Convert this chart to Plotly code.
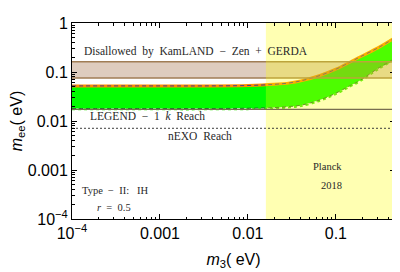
import math
import plotly.graph_objects as go

# ---- data ----
m3 = [1e-4, 1e-3, 0.003, 0.01, 0.02, 0.03, 0.04, 0.066, 0.1, 0.146, 0.19, 0.3, 0.47]
mee_upper = [0.052, 0.052, 0.052, 0.053, 0.056, 0.060, 0.066, 0.085, 0.114, 0.160, 0.205, 0.31, 0.50]
mee_lower = [0.018, 0.018, 0.018, 0.0182, 0.0188, 0.0198, 0.021, 0.027, 0.037, 0.053, 0.068, 0.118, 0.19]

kamland_band = [0.075, 0.162]   # disallowed by KamLAND-Zen + GERDA
legend_reach = 0.0172
nexo_reach = 0.0071
planck_m3 = 0.016
x_min, x_max = 1e-4, 0.47
y_min, y_max = 1e-4, 1.0

xtick_vals = [1e-4, 1e-3, 1e-2, 1e-1]
xtick_text = ["10<sup>\u22124</sup>", "0.001", "0.01", "0.1"]
ytick_vals = [1e-4, 1e-3, 1e-2, 1e-1, 1]
ytick_text = ["10<sup>\u22124</sup>", "0.001", "0.01", "0.1", "1"]

fig = go.Figure()

# green allowed band
fig.add_trace(go.Scatter(
    x=m3 + m3[::-1], y=mee_upper + mee_lower[::-1],
    fill="toself", fillcolor="rgb(0,252,0)", mode="lines",
    line=dict(width=0, shape="spline"), hoverinfo="skip"))
# upper edge: orange with dark dashes
fig.add_trace(go.Scatter(x=m3, y=mee_upper, mode="lines",
                         line=dict(color="rgb(255,140,0)", width=3, shape="spline")))
fig.add_trace(go.Scatter(x=m3, y=mee_upper, mode="lines",
                         line=dict(color="rgb(70,60,140)", width=1, dash="4px,3px", shape="spline")))
# lower edge: green dots + dark green dashes
fig.add_trace(go.Scatter(x=m3, y=[v * 0.96 for v in mee_lower], mode="lines",
                         line=dict(color="rgb(60,230,20)", width=2, dash="dot", shape="spline")))
fig.add_trace(go.Scatter(x=m3, y=mee_lower, mode="lines",
                         line=dict(color="rgb(30,110,40)", width=1, dash="4px,3px", shape="spline")))

# disallowed band (translucent brown)
fig.add_trace(go.Scatter(
    x=[x_min, x_max, x_max, x_min, x_min],
    y=[kamland_band[0], kamland_band[0], kamland_band[1], kamland_band[1], kamland_band[0]],
    fill="toself", fillcolor="rgba(160,110,70,0.35)", mode="lines",
    line=dict(width=0), hoverinfo="skip"))
for yv in kamland_band:
    fig.add_trace(go.Scatter(x=[x_min, x_max], y=[yv, yv], mode="lines",
                             line=dict(color="rgb(160,125,85)", width=1.5)))

# Planck region (translucent yellow)
fig.add_trace(go.Scatter(
    x=[planck_m3, x_max, x_max, planck_m3, planck_m3],
    y=[y_min, y_min, y_max, y_max, y_min],
    fill="toself", fillcolor="rgba(255,255,0,0.3)", mode="lines",
    line=dict(width=0), hoverinfo="skip"))

# LEGEND-1k and nEXO reach
fig.add_trace(go.Scatter(x=[x_min, x_max], y=[legend_reach, legend_reach], mode="lines",
                         line=dict(color="rgb(120,110,80)", width=1.2)))
fig.add_trace(go.Scatter(x=[x_min, x_max], y=[nexo_reach, nexo_reach], mode="lines",
                         line=dict(color="rgb(60,60,60)", width=1, dash="2px,2px")))

serif = "Liberation Serif"
txt_col = "rgb(40,40,40)"

def note(x, y, text, size=11.5):
    fig.add_annotation(x=math.log10(x), y=math.log10(y), text=text, showarrow=False,
                       font=dict(family=serif, size=size, color=txt_col),
                       xanchor="center", yanchor="middle")

note(10**-2.59, 10**-0.59, "Disallowed  by  KamLAND  \u2212  Zen  +  GERDA")
note(10**-3.14, 10**-1.89, "LEGEND  \u2212  1  <i>k</i>  Reach")
note(10**-2.55, 10**-2.31, "nEXO  Reach")
note(10**-1.10, 10**-2.92, "Planck", 10.5)
note(10**-1.05, 10**-3.31, "2018", 10.5)
note(10**-3.50, 10**-3.41, "Type  \u2212  II:   IH", 10.5)
note(10**-3.52, 10**-3.77, "<i>r</i>  =  0.5", 10.5)

def minor_vals(lo, hi):
    out = []
    d = math.floor(math.log10(lo))
    while 10**d < hi:
        for k in range(2, 10):
            v = k * 10**d
            if lo < v < hi:
                out.append(v)
        d += 1
    return out

axis_common = dict(
    type="log", showgrid=False, zeroline=False, showline=True, linecolor="black",
    linewidth=1, mirror="ticks", ticks="inside", ticklen=5, tickcolor="black",
    tickfont=dict(family="Liberation Sans", size=16, color="black"),
    automargin=False,
)

fig.update_xaxes(**axis_common, range=[math.log10(x_min), math.log10(x_max)],
                 tickvals=xtick_vals, ticktext=xtick_text,
                 minor=dict(ticks="inside", ticklen=2.5, tickcolor="black",
                            tickvals=minor_vals(x_min, x_max), showgrid=False),
                 title=dict(text="<i>m</i><sub>3</sub>( eV)", standoff=12,
                            font=dict(family="Liberation Sans", size=16, color="black")))
fig.update_yaxes(**axis_common, range=[math.log10(y_min), math.log10(y_max)],
                 tickvals=ytick_vals, ticktext=ytick_text,
                 minor=dict(ticks="inside", ticklen=2.5, tickcolor="black",
                            tickvals=minor_vals(y_min, y_max), showgrid=False),
                 title=dict(text="<i>m</i><sub>ee</sub>( eV)", standoff=6,
                            font=dict(family="Liberation Sans", size=16, color="black")))

# page body has an 8px margin, so the figure is sized/offset to compensate
fig.update_layout(
    width=392, height=264, showlegend=False,
    margin=dict(l=64, r=5, t=15, b=53),
    paper_bgcolor="white", plot_bgcolor="white",
)

fig.write_html("out.html")
